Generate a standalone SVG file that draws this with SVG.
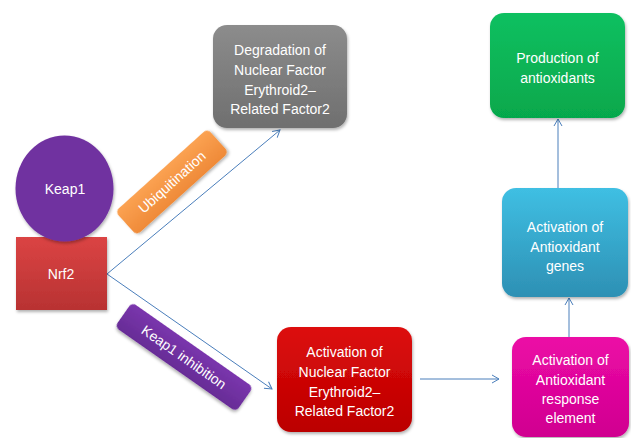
<svg xmlns="http://www.w3.org/2000/svg" width="631" height="438" viewBox="0 0 631 438">
<defs>
<style>
.t{font-family:"Liberation Sans",Arial,sans-serif;font-size:14px;fill:#fff;text-anchor:middle}
.c{fill:none;stroke:#4a7ebb;stroke-width:1}
</style>
<filter id="sh" x="-20%" y="-20%" width="140%" height="140%"><feDropShadow dx="1" dy="2" stdDeviation="1.5" flood-color="#000" flood-opacity="0.3"/></filter>
<linearGradient id="gGray" x1="0" y1="0" x2="0" y2="1"><stop offset="0" stop-color="#8c8c8c"/><stop offset="1" stop-color="#6f6f6f"/></linearGradient>
<linearGradient id="gRed" x1="0" y1="0" x2="0" y2="1"><stop offset="0" stop-color="#dd0c0c"/><stop offset="1" stop-color="#bb0000"/></linearGradient>
<linearGradient id="gNrf" x1="0" y1="0" x2="0" y2="1"><stop offset="0" stop-color="#db4444"/><stop offset="1" stop-color="#b83232"/></linearGradient>
<linearGradient id="gMag" x1="0" y1="0" x2="0" y2="1"><stop offset="0" stop-color="#ec0aa6"/><stop offset="1" stop-color="#d00090"/></linearGradient>
<linearGradient id="gBlue" x1="0" y1="0" x2="0" y2="1"><stop offset="0" stop-color="#3fbfe3"/><stop offset="1" stop-color="#2d90b4"/></linearGradient>
<linearGradient id="gGreen" x1="0" y1="0" x2="0" y2="1"><stop offset="0" stop-color="#10c060"/><stop offset="1" stop-color="#06a84c"/></linearGradient>
<linearGradient id="gPur" x1="0" y1="0" x2="0" y2="1"><stop offset="0" stop-color="#7a36ad"/><stop offset="1" stop-color="#672c96"/></linearGradient>
<linearGradient id="gOr" x1="0" y1="0" x2="0" y2="1"><stop offset="0" stop-color="#fba252"/><stop offset="1" stop-color="#ef8a38"/></linearGradient>
<marker id="arr" markerWidth="10" markerHeight="10" refX="8" refY="5" orient="auto" markerUnits="userSpaceOnUse"><path d="M1,1 L8,5 L1,9" fill="none" stroke="#4a7ebb" stroke-width="1"/></marker>
</defs>
<rect width="631" height="438" fill="#fff"/>

<g id="connectors">
<line class="c" x1="107" y1="274" x2="280" y2="130" marker-end="url(#arr)"/>
<line class="c" x1="107" y1="274" x2="272" y2="389" marker-end="url(#arr)"/>
<line class="c" x1="420" y1="379" x2="499" y2="379" marker-end="url(#arr)"/>
<line class="c" x1="569" y1="337" x2="569" y2="298" marker-end="url(#arr)"/>
<line class="c" x1="558" y1="188" x2="558" y2="119" marker-end="url(#arr)"/>
</g>

<g id="nrf2">
<rect x="16" y="237" width="91" height="73" fill="url(#gNrf)" filter="url(#sh)"/>
<text class="t" x="61" y="279" font-size="15">Nrf2</text>
</g>
<g id="keap1">
<ellipse cx="64.5" cy="188.5" rx="49" ry="53" fill="#7030a0" filter="url(#sh)"/>
<text class="t" x="65" y="194" font-size="15">Keap1</text>
</g>

<g id="ubiquitination" transform="translate(172,182) rotate(-42)">
<rect x="-62" y="-16" width="124" height="32" rx="5" fill="url(#gOr)" filter="url(#sh)"/>
<text class="t" x="0" y="5">Ubiquitination</text>
</g>

<g id="keap1-inhibition" transform="translate(184,357) rotate(35)">
<rect x="-74" y="-15" width="148" height="30" rx="5" fill="url(#gPur)" filter="url(#sh)"/>
<text class="t" x="0" y="5">Keap1 inhibition</text>
</g>

<g id="degradation">
<rect x="213" y="25" width="134" height="103" rx="14" fill="url(#gGray)" filter="url(#sh)"/>
<text class="t" x="280" y="55">Degradation of</text>
<text class="t" x="280" y="75">Nuclear Factor</text>
<text class="t" x="280" y="95">Erythroid2–</text>
<text class="t" x="280" y="114">Related Factor2</text>
</g>

<g id="activation-nrf2">
<rect x="277" y="327" width="135" height="105" rx="14" fill="url(#gRed)" filter="url(#sh)"/>
<text class="t" x="344.5" y="357">Activation of</text>
<text class="t" x="344.5" y="377">Nuclear Factor</text>
<text class="t" x="344.5" y="397">Erythroid2–</text>
<text class="t" x="344.5" y="416">Related Factor2</text>
</g>

<g id="are">
<rect x="512" y="337" width="117" height="100" rx="14" fill="url(#gMag)" filter="url(#sh)"/>
<text class="t" x="570.5" y="365">Activation of</text>
<text class="t" x="570.5" y="385">Antioxidant</text>
<text class="t" x="570.5" y="404">response</text>
<text class="t" x="570.5" y="423">element</text>
</g>

<g id="genes">
<rect x="502" y="188" width="126" height="109" rx="14" fill="url(#gBlue)" filter="url(#sh)"/>
<text class="t" x="565" y="232">Activation of</text>
<text class="t" x="565" y="252">Antioxidant</text>
<text class="t" x="565" y="271">genes</text>
</g>

<g id="production">
<rect x="490" y="13" width="135" height="105" rx="14" fill="url(#gGreen)" filter="url(#sh)"/>
<text class="t" x="557.5" y="63">Production of</text>
<text class="t" x="557.5" y="83">antioxidants</text>
</g>
</svg>
